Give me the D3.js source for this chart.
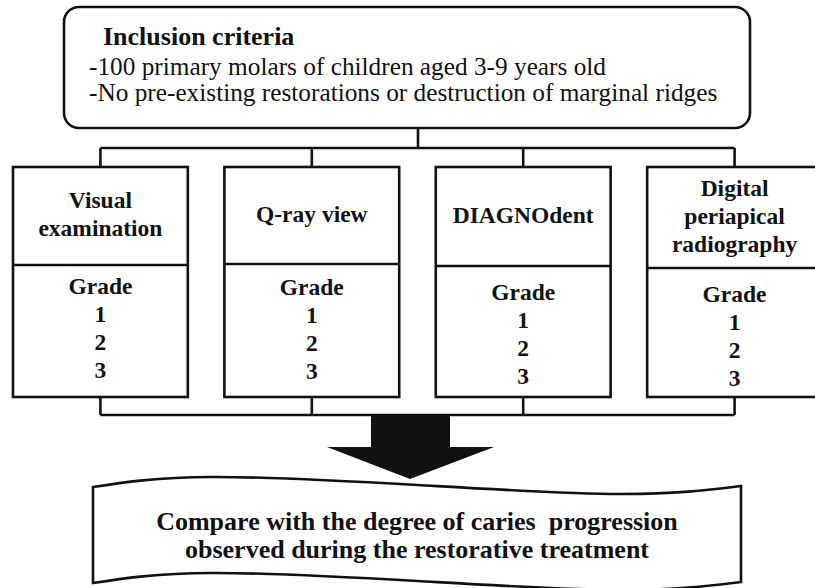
<!DOCTYPE html>
<html>
<head>
<meta charset="utf-8">
<script src="https://cdnjs.cloudflare.com/ajax/libs/d3/7.8.5/d3.min.js"></script>
<style>
  body { margin: 0; background: #fff; }
  svg { display: block; }
  text { font-family: "Liberation Serif", "Times New Roman", serif; fill: #111; }
</style>
</head>
<body>
<svg id="chart" width="815" height="588"></svg>
<script>
// flow chart content
var criteriaTitle = 'Inclusion criteria';
var criteriaLines = [
  '-100 primary molars of children aged 3-9 years old',
  '-No pre-existing restorations or destruction of marginal ridges'
];
var methods = ['Visual examination', 'Q-ray view', 'DIAGNOdent', 'Digital periapical radiography'];
var methodLines = [
  ['Visual', 'examination'],
  ['Q-ray view'],
  ['DIAGNOdent'],
  ['Digital', 'periapical', 'radiography']
];
var gradeLabels = ['Grade', '1', '2', '3'];
var outcomeLines = [
  'Compare with the degree of caries\u00a0 progression',
  'observed during the restorative treatment'
];

var svg = d3.select('#chart');
var ink = '#111';
var sw = 2.6;

// top rounded box
svg.append('rect')
  .attr('x', 64).attr('y', 7)
  .attr('width', 686).attr('height', 121)
  .attr('rx', 15)
  .attr('fill', 'none').attr('stroke', ink).attr('stroke-width', sw);

svg.append('text')
  .attr('x', 103).attr('y', 45)
  .attr('font-size', 26).attr('font-weight', 'bold')
  .text(criteriaTitle);

svg.selectAll('text.crit')
  .data(criteriaLines)
  .enter()
  .append('text')
  .attr('class', 'crit')
  .attr('x', 89)
  .attr('y', function(d, i) { return 75 + i * 26; })
  .attr('font-size', 25.3)
  .text(function(d) { return d; });

// method boxes laid out with a band scale
var x = d3.scaleBand()
  .domain(methods)
  .range([13, 822])
  .paddingInner(0.173)
  .paddingOuter(0);

var boxTop = 167, boxBottom = 397;
var dividerY = [265, 264, 266, 268];
var gradeY = [294, 295, 300, 302];

function cx(d) { return x(d) + x.bandwidth() / 2; }

// connectors from the top box
var lineGen = d3.line();
var conn = svg.append('g')
  .attr('fill', 'none').attr('stroke', ink).attr('stroke-width', sw);

conn.append('path').attr('d', lineGen([[418, 128], [418, 148]]));
conn.append('path').attr('d', lineGen([[cx(methods[0]), 148], [cx(methods[3]), 148]]));
conn.selectAll('path.drop')
  .data(methods)
  .enter()
  .append('path')
  .attr('class', 'drop')
  .attr('d', function(d) { return lineGen([[cx(d), 148], [cx(d), boxTop]]); });

// connectors below the boxes
conn.append('path').attr('d', lineGen([[cx(methods[0]), 415], [cx(methods[3]), 415]]));
conn.selectAll('path.rise')
  .data(methods)
  .enter()
  .append('path')
  .attr('class', 'rise')
  .attr('d', function(d) { return lineGen([[cx(d), boxBottom], [cx(d), 415]]); });

var boxes = svg.selectAll('g.method')
  .data(methods)
  .enter()
  .append('g')
  .attr('class', 'method');

boxes.append('rect')
  .attr('x', function(d) { return x(d); })
  .attr('y', boxTop)
  .attr('width', x.bandwidth())
  .attr('height', boxBottom - boxTop)
  .attr('fill', '#fff').attr('stroke', ink).attr('stroke-width', sw);

boxes.append('path')
  .attr('d', function(d, i) {
    return lineGen([[x(d), dividerY[i]], [x(d) + x.bandwidth(), dividerY[i]]]);
  })
  .attr('stroke', ink).attr('stroke-width', sw);

// header text, centred in the upper part of each box
boxes.each(function(d, i) {
  var g = d3.select(this);
  var lines = methodLines[i];
  var mid = (boxTop + dividerY[i]) / 2;
  g.selectAll('text.head')
    .data(lines)
    .enter()
    .append('text')
    .attr('class', 'head')
    .attr('x', cx(d))
    .attr('y', function(t, j) { return mid + 6 + (j - (lines.length - 1) / 2) * 28; })
    .attr('text-anchor', 'middle')
    .attr('font-size', 23.5).attr('font-weight', 'bold')
    .text(function(t) { return t; });

  g.selectAll('text.grade')
    .data(gradeLabels)
    .enter()
    .append('text')
    .attr('class', 'grade')
    .attr('x', cx(d))
    .attr('y', function(t, j) { return gradeY[i] + j * 28; })
    .attr('text-anchor', 'middle')
    .attr('font-size', 23.5).attr('font-weight', 'bold')
    .text(function(t) { return t; });
});

// block arrow
svg.append('path')
  .attr('d', lineGen([[371, 416], [450, 416], [450, 447], [494, 447], [410, 479],
                      [327, 447], [371, 447]]) + 'Z')
  .attr('fill', ink);

// wavy banner
var topWave = [[93, 487], [210, 477], [417, 485], [620, 494], [741, 486]];
var wave = d3.line().curve(d3.curveNatural);
var bottomWave = topWave.map(function(p) { return [p[0], p[1] + 96]; }).reverse();
svg.append('path')
  .attr('d', wave(topWave) + 'L' + bottomWave[0].join(',') +
             wave(bottomWave).replace(/^M[^C]*/, '') + 'Z')
  .attr('fill', '#fff').attr('stroke', ink).attr('stroke-width', sw);

svg.selectAll('text.out')
  .data(outcomeLines)
  .enter()
  .append('text')
  .attr('class', 'out')
  .attr('x', 417)
  .attr('y', function(d, i) { return 530 + i * 28; })
  .attr('text-anchor', 'middle')
  .attr('font-size', 26).attr('font-weight', 'bold')
  .text(function(d) { return d; });
</script>
</body>
</html>
